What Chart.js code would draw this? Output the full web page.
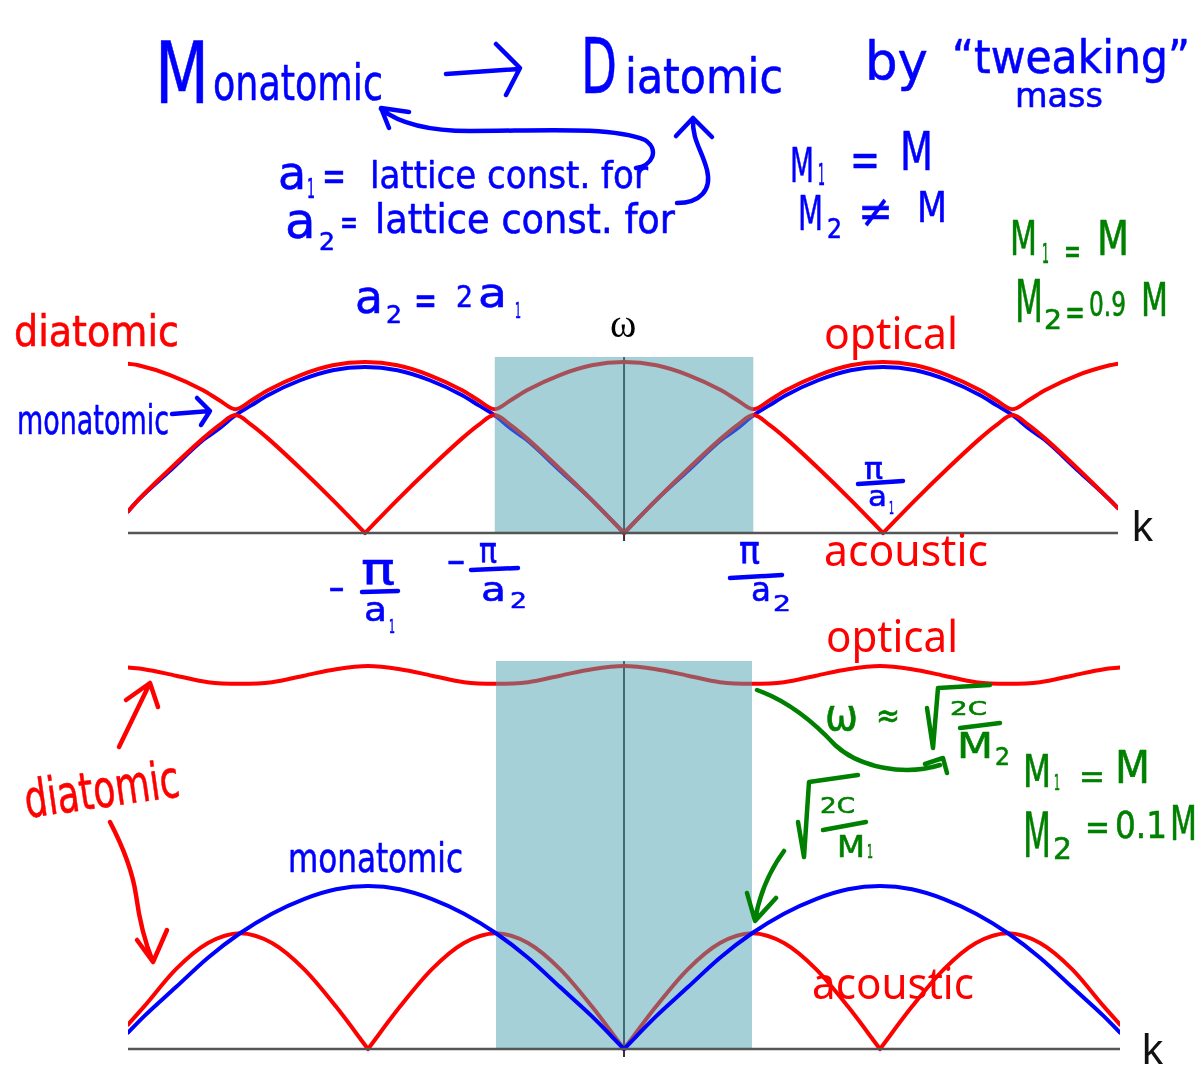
<!DOCTYPE html>
<html>
<head>
<meta charset="utf-8">
<script src="https://cdn.jsdelivr.net/npm/chart.js@4.4.1/dist/chart.umd.min.js"></script>
<style>
  body { margin: 0; background: #fff; }
  #stage { position: relative; width: 1203px; height: 1066px; background: #fff; overflow: hidden; }
  .plot { position: absolute; }
  #notes { position: absolute; left: 0; top: 0; }
  .hw { font-family: "DejaVu Sans", sans-serif; stroke-width: 0.6; stroke-linejoin: round; }
  .blue { fill: #0000ff; stroke: #0000ff; }
  .red { fill: #ff0000; stroke: #ff0000; }
  .green { fill: #008000; stroke: #008000; }
  .ink { fill: none; stroke-width: 4.5; stroke-linecap: round; stroke-linejoin: round; }
  .label { font-family: "Noto Sans", sans-serif; fill: #ff0000; }
</style>
</head>
<body>
<div id="stage">
  <div class="plot" style="left:128px; top:357px; width:990px; height:184px;">
    <canvas id="topChart" width="990" height="184"></canvas>
  </div>
  <div class="plot" style="left:128px; top:661px; width:992px; height:396px;">
    <canvas id="bottomChart" width="992" height="396"></canvas>
  </div>

  <svg id="notes" width="1203" height="1066">
    <!-- header: Monatomic -> Diatomic by "tweaking" mass -->
    <g class="hw blue">
      <text x="155" y="103" font-size="86" textLength="54" lengthAdjust="spacingAndGlyphs">M</text>
      <text x="213" y="100" font-size="50" textLength="170" lengthAdjust="spacingAndGlyphs">onatomic</text>
      <text x="581" y="93" font-size="76" textLength="36" lengthAdjust="spacingAndGlyphs">D</text>
      <text x="625" y="93" font-size="48" textLength="158" lengthAdjust="spacingAndGlyphs">iatomic</text>
      <text x="865" y="80" font-size="54" textLength="63" lengthAdjust="spacingAndGlyphs">by</text>
      <text x="952" y="73" font-size="46" textLength="238" lengthAdjust="spacingAndGlyphs">“tweaking”</text>
      <text x="1015" y="107" font-size="34" textLength="88" lengthAdjust="spacingAndGlyphs">mass</text>

      <text x="278" y="189" font-size="46">a</text>
      <text x="307" y="198" font-size="26" textLength="8" lengthAdjust="spacingAndGlyphs">1</text>
      <text x="322" y="190" font-size="42" textLength="24" lengthAdjust="spacingAndGlyphs">=</text>
      <text x="370" y="188" font-size="38" textLength="278" lengthAdjust="spacingAndGlyphs">lattice const. for</text>

      <text x="285" y="238" font-size="50">a</text>
      <text x="319" y="250" font-size="24" textLength="16" lengthAdjust="spacingAndGlyphs">2</text>
      <text x="340" y="234" font-size="36" textLength="18" lengthAdjust="spacingAndGlyphs">=</text>
      <text x="375" y="233" font-size="40" textLength="300" lengthAdjust="spacingAndGlyphs">lattice const. for</text>

      <text x="790" y="182" font-size="48" textLength="24" lengthAdjust="spacingAndGlyphs">M</text>
      <text x="818" y="185" font-size="30" textLength="7" lengthAdjust="spacingAndGlyphs">1</text>
      <text x="850" y="176" font-size="48" textLength="30" lengthAdjust="spacingAndGlyphs">=</text>
      <text x="900" y="170" font-size="54" textLength="33" lengthAdjust="spacingAndGlyphs">M</text>

      <text x="798" y="230" font-size="48" textLength="25" lengthAdjust="spacingAndGlyphs">M</text>
      <text x="827" y="238" font-size="26" textLength="15" lengthAdjust="spacingAndGlyphs">2</text>
      <text x="858" y="227" font-size="46" textLength="35" lengthAdjust="spacingAndGlyphs">≠</text>
      <text x="917" y="222" font-size="42" textLength="30" lengthAdjust="spacingAndGlyphs">M</text>

      <text x="355" y="313" font-size="46" textLength="28" lengthAdjust="spacingAndGlyphs">a</text>
      <text x="386" y="323" font-size="24" textLength="16" lengthAdjust="spacingAndGlyphs">2</text>
      <text x="414" y="314" font-size="40" textLength="23" lengthAdjust="spacingAndGlyphs">=</text>
      <text x="456" y="307" font-size="31" textLength="17" lengthAdjust="spacingAndGlyphs">2</text>
      <text x="478" y="307" font-size="40" textLength="29" lengthAdjust="spacingAndGlyphs">a</text>
      <text x="515" y="318" font-size="22" textLength="6" lengthAdjust="spacingAndGlyphs">1</text>

      <text x="17" y="434" font-size="40" textLength="152" lengthAdjust="spacingAndGlyphs">monatomic</text>
      <text x="288" y="872" font-size="40" textLength="175" lengthAdjust="spacingAndGlyphs">monatomic</text>

      <!-- zone edge labels -->
      <text x="328" y="601" font-size="36" textLength="17" lengthAdjust="spacingAndGlyphs">−</text>
      <text x="361" y="584" font-size="44" textLength="34" lengthAdjust="spacingAndGlyphs">π</text>
      <text x="364" y="621" font-size="34" textLength="23" lengthAdjust="spacingAndGlyphs">a</text>
      <text x="389" y="633" font-size="20" textLength="6" lengthAdjust="spacingAndGlyphs">1</text>

      <text x="446" y="574" font-size="36" textLength="20" lengthAdjust="spacingAndGlyphs">−</text>
      <text x="479" y="563" font-size="36" textLength="18" lengthAdjust="spacingAndGlyphs">π</text>
      <text x="481" y="601" font-size="34" textLength="25" lengthAdjust="spacingAndGlyphs">a</text>
      <text x="510" y="608" font-size="22" textLength="17" lengthAdjust="spacingAndGlyphs">2</text>

      <text x="739" y="563" font-size="38" textLength="21" lengthAdjust="spacingAndGlyphs">π</text>
      <text x="751" y="601" font-size="34" textLength="20" lengthAdjust="spacingAndGlyphs">a</text>
      <text x="773" y="611" font-size="22" textLength="18" lengthAdjust="spacingAndGlyphs">2</text>

      <text x="864" y="479" font-size="30" textLength="19" lengthAdjust="spacingAndGlyphs">π</text>
      <text x="868" y="506" font-size="28" textLength="19" lengthAdjust="spacingAndGlyphs">a</text>
      <text x="889" y="514" font-size="18" textLength="5" lengthAdjust="spacingAndGlyphs">1</text>
    </g>
    <g class="ink blue" style="fill:none">
      <path d="M446 74 L519 69 M496 44 L520 68 L506 95"/>
      <path d="M636 168 C652 166 660 150 645 140 C610 126 540 131 470 131 C430 131 400 124 381 109 M409 112 L381 108 L389 128"/>
      <path d="M677 203 C700 203 712 190 707 170 C702 150 692 140 693 119 M676 136 L693 118 L712 137"/>
      <path d="M172 414 L210 411 M197 398 L210 411 L201 425"/>
      <path d="M362 592 L398 591 M471 570 L518 568 M730 578 L782 575 M858 484 L903 481"/>
    </g>

    <!-- diatomic notes -->
    <g class="hw red">
      <text x="14" y="346" font-size="42" textLength="165" lengthAdjust="spacingAndGlyphs">diatomic</text>
      <text x="27" y="818" font-size="52" textLength="156" lengthAdjust="spacingAndGlyphs" transform="rotate(-8 27 818)">diatomic</text>
    </g>
    <g class="ink red" style="fill:none">
      <path d="M119 747 L150 683 M126 700 L150 683 L158 707"/>
      <path d="M110 822 C122 845 132 868 136 895 C140 925 146 945 153 962 M137 940 L153 962 L167 930"/>
    </g>

    <!-- branch names -->
    <text class="label" x="824" y="349" font-size="44" textLength="134" lengthAdjust="spacingAndGlyphs">optical</text>
    <text class="label" x="824" y="566" font-size="44" textLength="164" lengthAdjust="spacingAndGlyphs">acoustic</text>
    <text class="label" x="826" y="652" font-size="44" textLength="132" lengthAdjust="spacingAndGlyphs">optical</text>
    <text class="label" x="812" y="999" font-size="44" textLength="162" lengthAdjust="spacingAndGlyphs">acoustic</text>

    <!-- mass ratios and limits -->
    <g class="hw green">
      <text x="1010" y="255" font-size="48" textLength="27" lengthAdjust="spacingAndGlyphs">M</text>
      <text x="1042" y="263" font-size="26" textLength="7" lengthAdjust="spacingAndGlyphs">1</text>
      <text x="1064" y="263" font-size="36" textLength="17" lengthAdjust="spacingAndGlyphs">=</text>
      <text x="1097" y="255" font-size="48" textLength="32" lengthAdjust="spacingAndGlyphs">M</text>

      <text x="1015" y="322" font-size="58" textLength="28" lengthAdjust="spacingAndGlyphs">M</text>
      <text x="1044" y="329" font-size="26" textLength="18" lengthAdjust="spacingAndGlyphs">2</text>
      <text x="1065" y="324" font-size="36" textLength="20" lengthAdjust="spacingAndGlyphs">=</text>
      <text x="1089" y="316" font-size="34" textLength="37" lengthAdjust="spacingAndGlyphs">0.9</text>
      <text x="1141" y="316" font-size="46" textLength="27" lengthAdjust="spacingAndGlyphs">M</text>

      <text x="825" y="730" font-size="44" textLength="33" lengthAdjust="spacingAndGlyphs">ω</text>
      <text x="876" y="727" font-size="34" textLength="24" lengthAdjust="spacingAndGlyphs">≈</text>
      <text x="950" y="715" font-size="20" textLength="37" lengthAdjust="spacingAndGlyphs">2C</text>
      <text x="957" y="758" font-size="36" textLength="36" lengthAdjust="spacingAndGlyphs">M</text>
      <text x="995" y="765" font-size="24" textLength="15" lengthAdjust="spacingAndGlyphs">2</text>

      <text x="1023" y="787" font-size="44" textLength="28" lengthAdjust="spacingAndGlyphs">M</text>
      <text x="1054" y="790" font-size="22" textLength="6" lengthAdjust="spacingAndGlyphs">1</text>
      <text x="1079" y="788" font-size="34" textLength="26" lengthAdjust="spacingAndGlyphs">=</text>
      <text x="1115" y="783" font-size="44" textLength="35" lengthAdjust="spacingAndGlyphs">M</text>

      <text x="1023" y="857" font-size="62" textLength="28" lengthAdjust="spacingAndGlyphs">M</text>
      <text x="1053" y="859" font-size="30" textLength="19" lengthAdjust="spacingAndGlyphs">2</text>
      <text x="1085" y="839" font-size="36" textLength="25" lengthAdjust="spacingAndGlyphs">=</text>
      <text x="1115" y="838" font-size="38" textLength="52" lengthAdjust="spacingAndGlyphs">0.1</text>
      <text x="1170" y="840" font-size="48" textLength="27" lengthAdjust="spacingAndGlyphs">M</text>

      <text x="820" y="813" font-size="22" textLength="35" lengthAdjust="spacingAndGlyphs">2C</text>
      <text x="837" y="857" font-size="30" textLength="28" lengthAdjust="spacingAndGlyphs">M</text>
      <text x="867" y="858" font-size="20" textLength="6" lengthAdjust="spacingAndGlyphs">1</text>
    </g>
    <g class="ink green" style="fill:none">
      <path d="M927 708 L933 748 L938 688 L990 685 M960 728 L1000 723"/>
      <path d="M757 690 C785 700 810 718 835 745 C860 768 905 776 940 765 M925 764 L943 758 L947 773"/>
      <path d="M798 822 L804 857 L809 782 L858 775 M823 830 L866 822"/>
      <path d="M784 851 C770 870 760 892 755 920 M747 893 L755 921 L776 898"/>
    </g>

    <!-- axis names -->
    <text x="610" y="337" font-family="Liberation Serif, serif" font-size="40" fill="#000">ω</text>
    <text x="1132" y="541" font-family="Liberation Sans, sans-serif" font-size="42" fill="#111">k</text>
    <text x="1142" y="1064" font-family="Liberation Sans, sans-serif" font-size="42" fill="#111">k</text>
  </svg>
</div>

<script>
// k in units of pi/a1, omega in units of the monatomic maximum

// upper panel: M1 = M, M2 = 0.9M
const kTop = [-1.915, -1.875, -1.75, -1.625, -1.5625, -1.5, -1.4375, -1.375, -1.25, -1.125, -1,
  -0.875, -0.75, -0.625, -0.5625, -0.5, -0.4375, -0.375, -0.25, -0.125, 0,
  0.125, 0.25, 0.375, 0.4375, 0.5, 0.5625, 0.625, 0.75, 0.875, 1,
  1.125, 1.25, 1.375, 1.4375, 1.5, 1.5625, 1.625, 1.75, 1.875, 1.907];
const monoTop = [0.13, 0.20, 0.38, 0.56, 0.63, 0.71, 0.77, 0.83, 0.92, 0.98, 1.00,
  0.98, 0.92, 0.83, 0.77, 0.71, 0.63, 0.56, 0.38, 0.20, 0,
  0.20, 0.38, 0.56, 0.63, 0.71, 0.77, 0.83, 0.92, 0.98, 1.00,
  0.98, 0.92, 0.83, 0.77, 0.71, 0.63, 0.56, 0.38, 0.20, 0.15];
const acousticTop = [0.13, 0.20, 0.39, 0.57, 0.65, 0.71, 0.65, 0.57, 0.39, 0.20, 0,
  0.20, 0.39, 0.57, 0.65, 0.71, 0.65, 0.57, 0.39, 0.20, 0,
  0.20, 0.39, 0.57, 0.65, 0.71, 0.65, 0.57, 0.39, 0.20, 0,
  0.20, 0.39, 0.57, 0.65, 0.71, 0.65, 0.57, 0.39, 0.20, 0.15];
const opticalTop = [1.02, 1.01, 0.95, 0.86, 0.80, 0.745, 0.80, 0.86, 0.95, 1.01, 1.03,
  1.01, 0.95, 0.86, 0.80, 0.745, 0.80, 0.86, 0.95, 1.01, 1.03,
  1.01, 0.95, 0.86, 0.80, 0.745, 0.80, 0.86, 0.95, 1.01, 1.03,
  1.01, 0.95, 0.86, 0.80, 0.745, 0.80, 0.86, 0.95, 1.01, 1.02];

// lower panel: M1 = M, M2 = 0.1M
const kBottom = [-1.9375, -1.875, -1.75, -1.625, -1.5, -1.375, -1.25, -1.125, -1, -0.875, -0.75, -0.625, -0.5, -0.375, -0.25, -0.125,
  0, 0.125, 0.25, 0.375, 0.5, 0.625, 0.75, 0.875, 1, 1.125, 1.25, 1.375, 1.5, 1.625, 1.75, 1.875, 1.9375];
const monoBottom = [0.10, 0.20, 0.38, 0.56, 0.71, 0.83, 0.92, 0.98, 1.00, 0.98, 0.92, 0.83, 0.71, 0.56, 0.38, 0.20,
  0, 0.20, 0.38, 0.56, 0.71, 0.83, 0.92, 0.98, 1.00, 0.98, 0.92, 0.83, 0.71, 0.56, 0.38, 0.20, 0.10];
const acousticBottom = [0.15, 0.26, 0.49, 0.65, 0.71, 0.65, 0.49, 0.26, 0, 0.26, 0.49, 0.65, 0.71, 0.65, 0.49, 0.26,
  0, 0.26, 0.49, 0.65, 0.71, 0.65, 0.49, 0.26, 0, 0.26, 0.49, 0.65, 0.71, 0.65, 0.49, 0.26, 0.15];
const opticalBottom = [2.34, 2.33, 2.29, 2.25, 2.24, 2.25, 2.29, 2.33, 2.35, 2.33, 2.29, 2.25, 2.24, 2.25, 2.29, 2.33,
  2.35, 2.33, 2.29, 2.25, 2.24, 2.25, 2.29, 2.33, 2.35, 2.33, 2.29, 2.25, 2.24, 2.25, 2.29, 2.33, 2.34];

// first Brillouin zone of the diatomic lattice: -pi/a2 .. pi/a2
const zoneEdge = 0.5;

const RED = '#ff0000';
const BLUE = '#0000ff';
const ZONE_FILL = 'rgba(77, 161, 177, 0.5)';

// split a branch at its interior zeros so the cusp stays sharp with monotone splines
function toPoints(ks, values) {
    const points = [];
    ks.forEach((k, i) => {
        points.push({ x: k, y: values[i] });
        if (values[i] === 0 && i > 0 && i < ks.length - 1) {
            points.push({ x: k, y: null }, { x: k, y: 0 });
        }
    });
    return points;
}

function curve(ks, values, color, order) {
    return {
        data: toPoints(ks, values),
        borderColor: color,
        borderWidth: 4,
        borderCapStyle: 'round',
        borderJoinStyle: 'round',
        cubicInterpolationMode: 'monotone',
        pointRadius: 0,
        fill: false,
        order: order
    };
}

function straight(points, color, width, order) {
    return {
        data: points,
        borderColor: color,
        borderWidth: width,
        tension: 0,
        cubicInterpolationMode: 'default',
        pointRadius: 0,
        fill: false,
        order: order
    };
}

function zoneBox(yMax, order) {
    return {
        data: [{ x: -zoneEdge, y: yMax }, { x: zoneEdge, y: yMax }],
        borderColor: 'transparent',
        borderWidth: 0,
        backgroundColor: ZONE_FILL,
        fill: 'origin',
        tension: 0,
        pointRadius: 0,
        order: order
    };
}

function buildPanel(canvasId, ks, curves, range) {
    const xMin = ks[0];
    const xMax = ks[ks.length - 1];
    const datasets = [
        straight([{ x: xMin, y: 0 }, { x: xMax, y: 0 }], '#555555', 2.5, -1),
        straight([{ x: 0, y: range.min }, { x: 0, y: range.max }], '#333333', 2, 10),
        zoneBox(range.max, range.zoneOrder),
        ...curves
    ];

    return new Chart(document.getElementById(canvasId), {
        type: 'line',
        data: { datasets },
        options: {
            responsive: false,
            animation: false,
            events: [],
            layout: { padding: 0 },
            plugins: {
                legend: { display: false },
                tooltip: { enabled: false }
            },
            scales: {
                x: { type: 'linear', min: xMin, max: xMax, display: false },
                y: { type: 'linear', min: range.min, max: range.max, display: false }
            }
        }
    });
}

document.addEventListener('DOMContentLoaded', () => {
    // upper panel: red branches lie on top of the monatomic curve, zone shading over everything
    buildPanel('topChart', kTop, [
        curve(kTop, opticalTop, RED, 1),
        curve(kTop, acousticTop, RED, 2),
        curve(kTop, monoTop, BLUE, 3)
    ], { min: -0.048, max: 1.06, zoneOrder: 0 });

    // lower panel: monatomic curve stays visible through the zone shading
    buildPanel('bottomChart', kBottom, [
        curve(kBottom, monoBottom, BLUE, 0),
        curve(kBottom, opticalBottom, RED, 2),
        curve(kBottom, acousticBottom, RED, 3)
    ], { min: -0.049, max: 2.38, zoneOrder: 1 });
});
</script>
</body>
</html>
